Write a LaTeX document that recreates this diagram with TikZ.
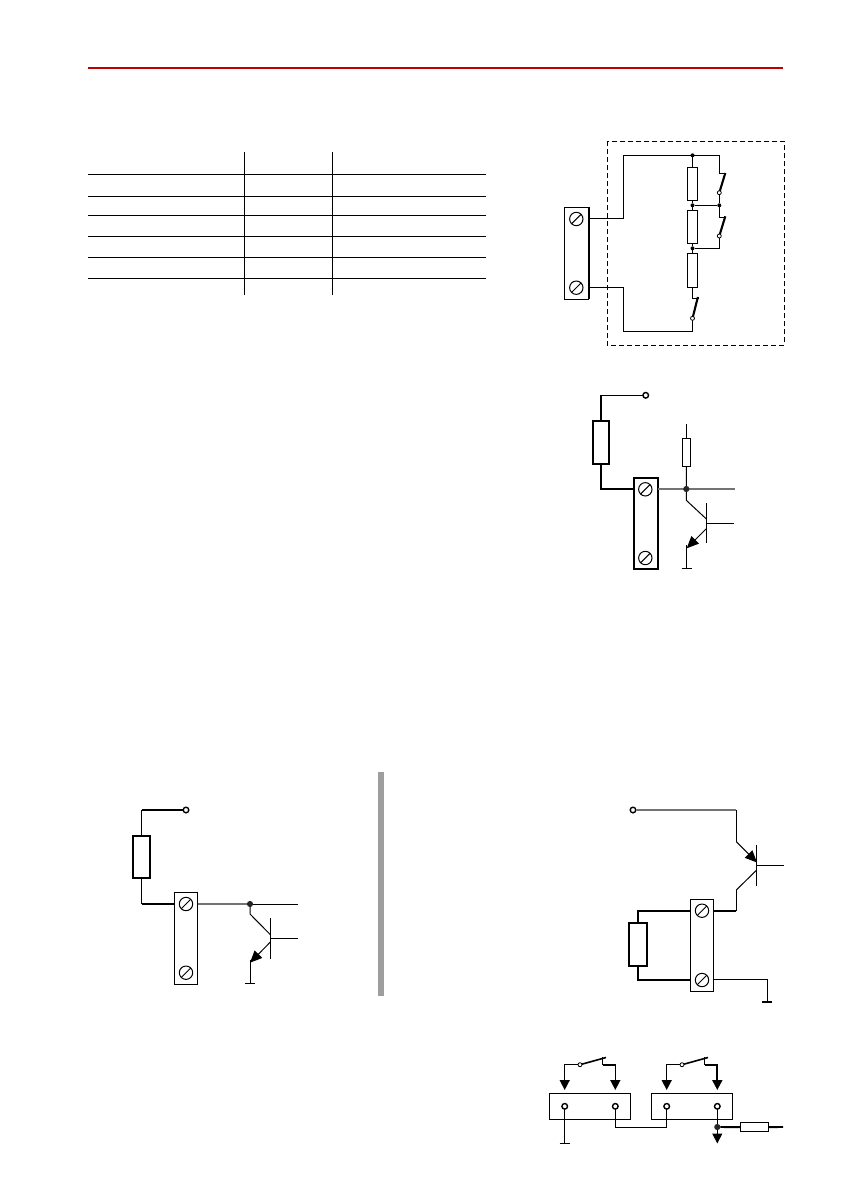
\documentclass[tikz,border=0pt]{standalone}
\usetikzlibrary{arrows.meta,calc}
\tikzset{
  wire/.style={line width=1pt,black,line join=miter},
  fat/.style={line width=1.9pt,black,line join=miter},
  grey wire/.style={line width=1.3pt,black!55},
  tbl/.style={line width=1pt,black},
  termblock/.style={draw,line width=1pt,fill=white,rectangle,inner sep=0pt,outer sep=0pt},
  rbox/.style={draw,line width=1pt,fill=white,rectangle,inner sep=0pt,outer sep=0pt},
  rboxfat/.style={rbox,line width=1.8pt},
  screwhead/.style={draw,line width=1pt,circle,inner sep=0pt,outer sep=0pt,minimum size=13.4pt,
    path picture={\draw[line width=1pt] (path picture bounding box.225) -- (path picture bounding box.45);}},
  pin/.style={draw,line width=1.4pt,fill=white,circle,inner sep=0pt,outer sep=0pt,minimum size=5.6pt},
  swpin/.style={draw,line width=0.8pt,fill=white,circle,inner sep=0pt,outer sep=0pt,minimum size=4pt},
  junction/.style={fill=black,circle,inner sep=0pt,outer sep=0pt,minimum size=4pt},
  bigjunction/.style={fill=black!85,circle,inner sep=0pt,outer sep=0pt,minimum size=6.2pt},
  blade/.style={line width=2.1pt,black},
  arrowtip/.style={-{Triangle[length=10pt,width=10pt]}},
  emitter/.style={-{Triangle[length=12pt,width=10.5pt]}},
  earthbar/.style={line width=1.5pt,black}
}
\begin{document}
\begin{tikzpicture}[x=1pt,y=-1pt]
\useasboundingbox (0,0) rectangle (840,1190);

% header rule
\coordinate (hl) at (88,68); \coordinate (hr) at (783,68);
\draw[line width=2.2pt,draw=red!75!black] (hl) -- (hr);

% table
\foreach \yy in {174.3,196.3,215.3,236.3,257.3,278.3}
  \draw[tbl] (88,\yy) -- (486,\yy);
\foreach \xx in {244.3,332.3}
  \draw[tbl] (\xx,152) -- (\xx,295);

% ---------- diagram 1 ----------
\draw[line width=1pt,dash pattern=on 5pt off 3pt] (607.3,141.3) rectangle (784.3,345.3);
\node[termblock,minimum width=24.4pt,minimum height=92pt] (A) at (576.5,253.3) {};
\draw[line width=1.9pt] (A.north east) -- (A.south east);
\node[screwhead] (As1) at (576.3,219) {};
\node[screwhead] (As2) at (576.3,287.7) {};
\node[rbox,minimum width=10.4pt,minimum height=33pt] (Ar1) at (692.5,183.8) {};
\node[rbox,minimum width=10.4pt,minimum height=33.4pt] (Ar2) at (692.5,227) {};
\node[rbox,minimum width=10.4pt,minimum height=34pt] (Ar3) at (692.5,270.3) {};
\node[junction] (Aj1) at (692.5,155.3) {};
\node[junction] (Aj2) at (692.5,205.3) {};
\node[junction] (Aj3) at (692.5,248.3) {};
\node[junction] (Aj4) at (719.3,205.3) {};
\coordinate (Atl) at (623.3,155.3);
\coordinate (Abl) at (623.3,331.3);
\coordinate (Atr) at (719.3,155.3);
\coordinate (Asw1a) at (719.3,174);
\coordinate (Asw2a) at (719.3,217.3);
\coordinate (Asw3a) at (692.5,298.3);
\draw[wire] (A.east |- 0,218.3) -| (Atl) -- (Atr) -- (Asw1a) -- ++(6.5,0);
\draw[wire] (A.east |- 0,287.3) -| (Abl) -- (692.5,331.3) -- (692.5,318.3);
\draw[wire] (Aj1) -- (Ar1); \draw[wire] (Ar1) -- (Aj2); \draw[wire] (Aj2) -- (Ar2);
\draw[wire] (Ar2) -- (Aj3); \draw[wire] (Aj3) -- (Ar3);
\draw[wire] (Ar3) -- (Asw3a) -- ++(6,0);
\draw[wire] (Aj2) -- (Aj4);
\draw[wire] (719.3,192.7) -- (Aj4) -- (Asw2a) -- ++(6.5,0);
\draw[wire] (719.3,236) -- (719.3,248.3) -- (Aj3);
\draw[blade] (719.3,192.7) -- (725.3,173);
\draw[blade] (719.3,236) -- (725.3,216.3);
\draw[blade] (692.5,318.3) -- (697.9,297);
\node[swpin] (Ap1) at (719.3,192.7) {};
\node[swpin] (Ap2) at (719.3,236) {};
\node[swpin] (Ap3) at (692.5,318.3) {};

% ---------- diagram 2 ----------
\node[pin] (Bt) at (645.7,395.3) {};
\node[rboxfat,minimum width=16.6pt,minimum height=43pt] (Br) at (601,442.5) {};
\node[termblock,line width=1.8pt,minimum width=24pt,minimum height=91.6pt] (B) at (645.7,523.5) {};
\node[screwhead] (Bs1) at (645.3,489.3) {};
\node[screwhead] (Bs2) at (645.3,558) {};
\node[rbox,minimum width=8.4pt,minimum height=28pt] (Br2) at (686.5,452.3) {};
\coordinate (Bout) at (734.7,489);
\coordinate (Brtop) at (686.5,424);
\coordinate (Bc) at (686.3,500.3);
\coordinate (Bbt) at (706.7,503.3);
\coordinate (Bbb) at (706.7,543.3);
\coordinate (Bb) at (706.7,523.3);
\coordinate (Bbo) at (734,523.3);
\coordinate (Bci) at (706.7,519.3);
\coordinate (Bei) at (706.7,528.3);
\coordinate (Bet) at (686.7,548.3);
\coordinate (Bg) at (686.7,568.7);
\draw[wire] (Bt) -- (601,395.3);
\draw[fat] (601,395.3) -- (Br);
\draw[fat] (Br) -- (601,489) -- (B.west |- 0,489);
\draw[grey wire] (B.east |- 0,489) -- (Bout);
\node[bigjunction] (Bj) at (686.3,489) {};
\draw[wire] (Brtop) -- (Br2); \draw[wire] (Br2) -- (Bj);
\draw[wire] (Bj) -- (Bc) -- (Bci);
\draw[line width=1.2pt] (Bbt) -- (Bbb);
\draw[wire] (Bb) -- (Bbo);
\draw[wire,emitter] (Bei) -- (Bet);
\draw[wire] ($(Bet)+(0,-3)$) -- (Bg);
\draw[earthbar] ($(Bg)+(-5,0)$) -- ($(Bg)+(5,0)$);

% ---------- grey divider ----------
\node[fill=black!38,inner sep=0pt,outer sep=0pt,minimum width=5.5pt,minimum height=224pt] (div) at (381,884) {};

% ---------- diagram 3 ----------
\node[pin] (Ct) at (186,810) {};
\node[rboxfat,minimum width=17.6pt,minimum height=42.6pt] (Cr) at (141.5,857) {};
\node[termblock,minimum width=23.4pt,minimum height=92pt] (C) at (186,938.3) {};
\node[screwhead] (Cs1) at (186,904) {};
\node[screwhead] (Cs2) at (186,972.7) {};
\coordinate (Cout) at (297.7,904);
\coordinate (Cc) at (250,914);
\coordinate (Cci) at (270.7,935);
\coordinate (Cbt) at (270.7,918);
\coordinate (Cbb) at (270.7,958.7);
\coordinate (Cb) at (270.7,938);
\coordinate (Cbo) at (298,938);
\coordinate (Cei) at (270.7,941.7);
\coordinate (Cet) at (250,962.7);
\coordinate (Cg) at (250,983.3);
\draw[fat] (Ct) -- (141.5,810);
\draw[wire] (141.5,810) -- (Cr);
\draw[wire] (Cr) -- (141.5,904);
\draw[fat] (141.5,904) -- (C.west |- 0,904);
\draw[grey wire] (C.east |- 0,904) -- (250,904);
\node[bigjunction] (Cj) at (250,904) {};
\draw[wire] (Cj) -- (Cout);
\draw[wire] (Cj) -- (Cc) -- (Cci);
\draw[line width=1.2pt] (Cbt) -- (Cbb);
\draw[wire] (Cb) -- (Cbo);
\draw[wire,emitter] (Cei) -- (Cet);
\draw[wire] ($(Cet)+(0,-3)$) -- (Cg);
\draw[line width=1pt] ($(Cg)+(-5,0)$) -- ($(Cg)+(5,0)$);

% ---------- diagram 4 ----------
\node[pin] (Dt) at (633,810) {};
\node[rboxfat,minimum width=18pt,minimum height=42.7pt] (Dr) at (638.3,944.7) {};
\node[termblock,minimum width=23.4pt,minimum height=92pt] (D) at (702,945.3) {};
\node[screwhead] (Ds1) at (702,910.7) {};
\node[screwhead] (Ds2) at (702,980) {};
\coordinate (De) at (736.3,841.7);
\coordinate (Dei) at (757,862.5);
\coordinate (Dbt) at (756.7,845.3);
\coordinate (Dbb) at (756.7,885.7);
\coordinate (Db) at (756.7,865.3);
\coordinate (Dbo) at (784,865.3);
\coordinate (Dci) at (756.7,870);
\coordinate (Dc) at (736.3,890);
\coordinate (Dg) at (767.3,1002);
\draw[grey wire] (Dt) -- (736.3,810);
\draw[wire] (736.3,810) -- (De);
\draw[wire,emitter] (De) -- (Dei);
\draw[line width=1.2pt] (Dbt) -- (Dbb);
\draw[wire] (Db) -- (Dbo);
\draw[wire] (Dci) -- (Dc);
\draw[wire] (Dc) -- (736.3,911);
\draw[fat] (736.3,911) -- (D.east |- 0,911);
\draw[fat] (D.west |- 0,910.7) -| (Dr);
\draw[fat] (Dr) |- (D.west |- 0,980);
\draw[wire] (D.east |- 0,979.3) -| (Dg);
\draw[earthbar] ($(Dg)+(-5,0)$) -- ($(Dg)+(5,0)$);

% ---------- diagram 5 ----------
\node[termblock,minimum width=81.4pt,minimum height=26pt] (E1) at (590,1106.3) {};
\node[termblock,minimum width=81.4pt,minimum height=26pt] (E2) at (692,1106.3) {};
\node[pin] (Ea) at (564.7,1106.3) {};
\node[pin] (Eb) at (615.3,1106.3) {};
\node[pin] (Ec) at (666.7,1106.3) {};
\node[pin] (Ed) at (717.3,1106.3) {};
\coordinate (Es1c) at (580,1064.7);
\coordinate (Es2c) at (682,1064.7);
\coordinate (Ea1) at (564.7,1064.7);
\coordinate (Ec1) at (666.7,1064.7);
\coordinate (Et1) at (602.7,1065);
\coordinate (Et2) at (704.7,1065);
\coordinate (Etr1) at (615.3,1065);
\coordinate (Etr2) at (717.3,1065);
\coordinate (Etp1) at (564.7,1090);
\coordinate (Etp2) at (615.3,1090);
\coordinate (Etp3) at (666.7,1090);
\coordinate (Etp4) at (717.3,1090);
\coordinate (Eg) at (564.7,1143.3);
\coordinate (Elink) at (615.3,1127.3);
\coordinate (Ee) at (717.3,1143.5);
\node[rbox,minimum width=28.4pt,minimum height=9pt] (Er) at (754.5,1127.2) {};
\coordinate (Erout) at (783,1127);
\draw[wire,line width=1.5pt,arrowtip] (Es1c) -- (Ea1) -- (Etp1);
\draw[wire,line width=1.5pt] (Et1) -- ++(0,-8);
\draw[wire,line width=1.5pt,arrowtip] (Et1) -- (Etr1) -- (Etp2);
\draw[wire,line width=1.5pt,arrowtip] (Es2c) -- (Ec1) -- (Etp3);
\draw[wire,line width=1.5pt] (Et2) -- ++(0,-8);
\draw[wire,line width=1.9pt,arrowtip] (Et2) -- (Etr2) -- (Etp4);
\draw[blade,line width=1.6pt] (Es1c) -- (606,1057.5);
\draw[blade,line width=1.6pt] (Es2c) -- (708,1057.5);
\node[swpin] (Es1) at (Es1c) {};
\node[swpin] (Es2) at (Es2c) {};
\draw[wire] (Ea) -- (Eg);
\draw[line width=1.1pt] ($(Eg)+(-5,0)$) -- ($(Eg)+(5,0)$);
\draw[wire] (Eb) -- (Elink) -| (Ec);
\draw[wire] (Ed) -- (717.3,1127);
\node[bigjunction] (Ej) at (717.3,1127) {};
\draw[wire,line width=1pt,arrowtip] (Ej) -- (Ee);
\draw[fat] (Ej) -- (Er);
\draw[fat] (Er) -- (Erout);
\end{tikzpicture}
\end{document}
